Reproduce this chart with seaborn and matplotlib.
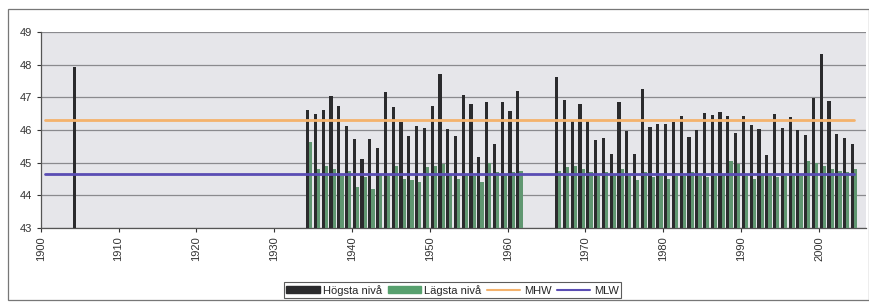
"""Highest and lowest yearly water levels with mean high / mean low water lines."""
import numpy as np
import pandas as pd
import seaborn as sns
import matplotlib.pyplot as plt
from matplotlib.patches import Patch, Rectangle
from matplotlib.lines import Line2D

# Step 1: data
years = [1904] + list(range(1934, 1962)) + list(range(1966, 2005))
high = [47.94,
        46.61, 46.50, 46.60, 47.04, 46.74, 46.12, 45.71, 45.10, 45.71, 45.44,
        47.15, 46.70, 46.24, 45.80, 46.12, 46.07, 46.74, 47.73, 46.02, 45.81,
        47.07, 46.79, 45.18, 46.86, 45.58, 46.86, 46.57, 47.20,
        47.63, 46.91, 46.28, 46.79, 46.28, 45.69, 45.76, 45.27, 46.86, 45.97,
        45.27, 47.27, 46.09, 46.17, 46.17, 46.24, 46.43, 45.78, 46.00, 46.51,
        46.45, 46.55, 46.43, 45.90, 46.43, 46.16, 46.04, 45.22, 46.48, 46.07,
        46.40, 45.99, 45.85, 46.97, 48.34, 46.89, 45.87, 45.74, 45.56]
low = [np.nan,
       45.64, 44.80, 44.90, 44.80, 44.60, 44.75, 44.25, 44.55, 44.20, 44.65,
       44.60, 44.90, 44.50, 44.45, 44.40, 44.85, 44.90, 44.95, 44.65, 44.50,
       44.65, 44.60, 44.40, 45.00, 44.70, 44.65, 44.70, 44.75,
       44.75, 44.85, 44.90, 44.80, 44.70, 44.60, 44.70, 44.65, 44.80, 44.60,
       44.45, 44.70, 44.55, 44.60, 44.50, 44.60, 44.60, 44.70, 44.60, 44.55,
       44.60, 44.65, 45.05, 44.95, 44.60, 44.50, 44.65, 44.60, 44.55, 44.60,
       44.60, 44.60, 45.05, 45.00, 44.90, 44.80, 44.75, 44.70, 44.80]
mhw = 46.31
mlw = 44.66
line_years = [1900, 2004]

# Step 2: long table for the bars, centred inside each year slot
df = pd.DataFrame({"year": years, "Högsta nivå": high, "Lägsta nivå": low})
long = df.melt(id_vars="year", var_name="serie", value_name="niva").dropna()
long["pos"] = long["year"] + 0.5
lines = pd.DataFrame({"pos": [y + 0.5 for y in line_years],
                      "MHW": [mhw, mhw], "MLW": [mlw, mlw]})

dark = "#2b2b2d"
green = "#57a06e"
orange = "#f4b26c"
purple = "#5a4db4"

sns.set_style("white")
plt.rcParams["font.family"] = ["Liberation Sans", "DejaVu Sans"]

fig = plt.figure(figsize=(8.7, 3.04), dpi=100)
ax = fig.add_axes([0.0468, 0.251, 0.9482, 0.643])
ax.set_facecolor("#e6e6ea")

# Step 3: bars and mean lines
sns.barplot(data=long, x="pos", y="niva", hue="serie", native_scale=True,
            palette=[dark, green], width=0.82, dodge=True, legend=False,
            linewidth=0, ax=ax, zorder=3)
sns.lineplot(data=lines, x="pos", y="MHW", color=orange, linewidth=2, ax=ax, zorder=4)
sns.lineplot(data=lines, x="pos", y="MLW", color=purple, linewidth=2, ax=ax, zorder=4)

# Step 4: axes styling
ax.set_xlim(1900, 2006)
ax.set_ylim(43, 49)
ax.set_yticks(range(43, 50))
ax.set_xticks(range(1900, 2001, 10))
ax.set_xticklabels([str(y) for y in range(1900, 2001, 10)], rotation=90)
ax.yaxis.grid(True, color="#8a8a8e", linewidth=0.9, zorder=0)
ax.set_axisbelow(True)
ax.set_xlabel("")
ax.set_ylabel("")
for side in ["top", "right"]:
    ax.spines[side].set_visible(False)
for side in ["left", "bottom"]:
    ax.spines[side].set_color("#555555")
    ax.spines[side].set_linewidth(0.9)
ax.tick_params(axis="both", labelsize=8, colors="#333333", length=3,
               width=0.8, direction="out", left=True, bottom=True)

# Step 5: legend and chart border
handles = [Patch(color=dark), Patch(color=green),
           Line2D([0], [0], color=orange, lw=1.5), Line2D([0], [0], color=purple, lw=1.5)]
leg = fig.legend(handles, ["Högsta nivå", "Lägsta nivå", "MHW", "MLW"],
                 loc="lower center", bbox_to_anchor=(0.52, 0.0), ncol=4,
                 fontsize=8, frameon=True, fancybox=False, handlelength=3.0,
                 handleheight=0.6, columnspacing=0.5, handletextpad=0.3,
                 borderpad=0.25, edgecolor="#333333")
leg.get_frame().set_linewidth(0.8)
fig.patches.append(Rectangle((0.009, 0.012), 0.99, 0.958, transform=fig.transFigure,
                             fill=False, edgecolor="#777777", linewidth=0.9))

plt.savefig("out.png", dpi=100)
